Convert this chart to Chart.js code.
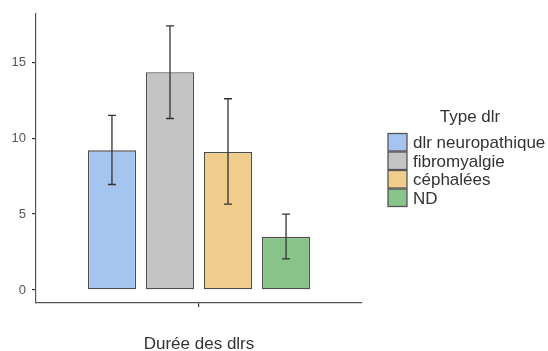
<!DOCTYPE html>
<html>
<head>
<meta charset="utf-8">
<script src="https://cdn.jsdelivr.net/npm/chart.js@4"></script>
<style>
  html, body { margin: 0; padding: 0; background: #fff; }
  #wrap { width: 548px; height: 351px; }
</style>
</head>
<body>
<div id="wrap"><canvas id="c" width="548" height="351"></canvas></div>
<script>
// data
const types = ['dlr neuropathique', 'fibromyalgie', 'céphalées', 'ND'];
const means = [9.2, 14.35, 9.1, 3.5];
const lower = [6.95, 11.3, 5.65, 2.05];
const upper = [11.5, 17.4, 12.6, 5.0];
const yTicks = [0, 5, 10, 15];
const fills = ['#a6c4f0', '#c4c4c4', '#f0cd8c', '#88c38a'];

const FONT = '"Liberation Sans", Arial, sans-serif';

const errorBars = {
  id: 'errorBars',
  afterDatasetsDraw(chart) {
    const ctx = chart.ctx;
    const y = chart.scales.y;
    ctx.save();
    ctx.strokeStyle = '#333';
    ctx.lineWidth = 1.3;
    chart.data.datasets.forEach((ds, i) => {
      const bar = chart.getDatasetMeta(i).data[0];
      const x = bar.x;
      const yLo = y.getPixelForValue(lower[i]);
      const yHi = y.getPixelForValue(upper[i]);
      ctx.beginPath();
      ctx.moveTo(x, yLo); ctx.lineTo(x, yHi);
      ctx.moveTo(x - 4, yLo); ctx.lineTo(x + 4, yLo);
      ctx.moveTo(x - 4, yHi); ctx.lineTo(x + 4, yHi);
      ctx.stroke();
    });
    ctx.restore();
  }
};

const sideLegend = {
  id: 'sideLegend',
  afterDraw(chart) {
    const ctx = chart.ctx;
    ctx.save();
    ctx.fillStyle = '#333';
    ctx.font = '17px ' + FONT;
    ctx.textAlign = 'center';
    ctx.textBaseline = 'alphabetic';
    ctx.fillText('Type dlr', 470, 121.5);
    ctx.textAlign = 'left';
    const top = 133, h = 18.5;
    chart.data.datasets.forEach((ds, i) => {
      const by = top + i * h;
      ctx.fillStyle = ds.backgroundColor;
      ctx.fillRect(388, by + 0.5, 19, h - 1);
      ctx.strokeStyle = '#555';
      ctx.lineWidth = 1.3;
      ctx.strokeRect(388, by + 0.5, 19, h - 1);
      ctx.fillStyle = '#333';
      ctx.fillText(ds.label, 413, by + h / 2 + 6);
    });
    // x axis title
    ctx.textAlign = 'center';
    ctx.fillText('Durée des dlrs', chart.scales.x.getPixelForValue(0), 349);
    ctx.restore();
  }
};

new Chart(document.getElementById('c'), {
  type: 'bar',
  data: {
    labels: [''],
    datasets: types.map((t, i) => ({
      label: t,
      data: [means[i]],
      backgroundColor: fills[i],
      borderColor: '#4d4d4d',
      borderWidth: 1.3,
      borderSkipped: false,
      categoryPercentage: 0.712,
      barPercentage: 0.83
    }))
  },
  options: {
    responsive: false,
    animation: false,
    layout: { padding: { top: 13, right: 186, left: 0, bottom: 0 } },
    plugins: {
      legend: { display: false },
      tooltip: { enabled: false }
    },
    scales: {
      x: {
        afterFit: s => { s.height = 48; },
        grid: { offset: false, drawOnChartArea: false, tickLength: 4, color: '#333', lineWidth: 1.2 },
        border: { display: true, color: '#555', width: 1.2 },
        ticks: { display: true, padding: 0, font: { size: 1 } }
      },
      y: {
        min: -0.86,
        max: 18.2,
        afterFit: s => { s.width = 36; },
        afterBuildTicks: s => { s.ticks = yTicks.map(v => ({ value: v })); },
        grid: { drawOnChartArea: false, tickLength: 4, color: '#333', lineWidth: 1.2 },
        border: { display: true, color: '#555', width: 1.2 },
        ticks: { color: '#555', padding: 6, font: { family: FONT, size: 13 } }
      }
    }
  },
  plugins: [errorBars, sideLegend]
});
</script>
</body>
</html>
